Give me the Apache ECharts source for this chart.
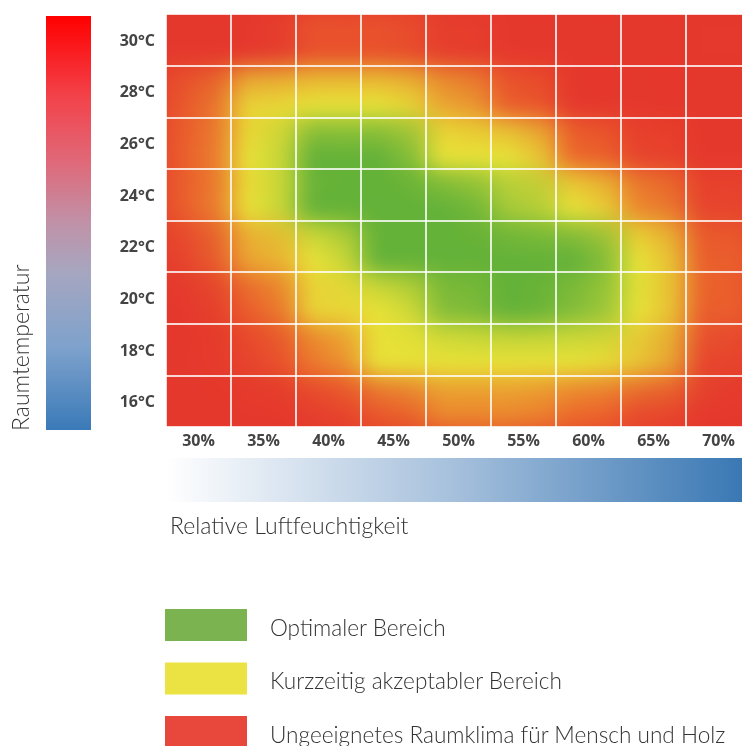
<!DOCTYPE html>
<html><head><meta charset="utf-8">
<script src="https://cdn.jsdelivr.net/npm/echarts@6/dist/echarts.min.js"></script>
<style>
html,body{margin:0;padding:0;width:742px;height:746px;overflow:hidden;background:#fff;}
#heatClip{position:absolute;left:166px;top:14px;width:576px;height:413px;overflow:hidden;}
#heatBlur{position:absolute;left:-65px;top:-51.625px;width:715px;height:516.25px;filter:blur(7px);}
#heat{position:absolute;left:0;top:0;width:22px;height:20px;transform-origin:0 0;transform:scale(32.5,25.8125);image-rendering:auto;}
#main{position:absolute;left:0;top:0;width:760px;height:746px;}
</style></head><body>
<div id="heatClip"><div id="heatBlur"><div id="heat"></div></div></div>
<div id="main"></div>
<script>
// categories
const humidity = ['30%','35%','40%','45%','50%','55%','60%','65%','70%'];
const temperature = ['16°C','18°C','20°C','22°C','24°C','26°C','28°C','30°C'];
// comfort score per cell (0 = ungeeignet, 1 = kurzzeitig akzeptabel, 2 = optimal)
const comfort16 = [0, 0, 0.05, 0.25, 0.5, 0.5, 0.4, 0.15, 0];
const comfort18 = [0, 0.1, 0.45, 0.9, 1.0, 1.0, 1.0, 0.7, 0.1];
const comfort20 = [0, 0.3, 0.75, 1.0, 1.5, 2.0, 1.5, 1.0, 0.3];
const comfort22 = [0.1, 0.6, 1.0, 1.6, 2.0, 2.0, 1.7, 1.0, 0.3];
const comfort24 = [0.3, 1.0, 1.6, 2.0, 2.0, 1.4, 1.0, 0.5, 0.1];
const comfort26 = [0.3, 1.0, 2.0, 2.0, 1.2, 0.8, 0.4, 0.1, 0];
const comfort28 = [0.25, 0.75, 1.2, 1.1, 0.6, 0.3, 0, 0, 0];
const comfort30 = [0, 0, 0.2, 0.2, 0.05, 0, 0, 0, 0];
const comfortRows = [comfort16, comfort18, comfort20, comfort22, comfort24, comfort26, comfort28, comfort30];
// texts
const yAxisTitle = 'Raumtemperatur';
const xAxisTitle = 'Relative Luftfeuchtigkeit';
const legendLabels = ['Optimaler Bereich', 'Kurzzeitig akzeptabler Bereich', 'Ungeeignetes Raumklima für Mensch und Holz'];

const RED = '#e5392e', ORANGE = '#ec6a2c', YELLOW = '#e8e238', GREEN = '#64b23a';
const legendColors = ['#7ab350', '#ebe344', '#e8473c'];

const heatData = [];
comfortRows.forEach((row, yi) => row.forEach((v, xi) => heatData.push([xi, yi, v])));

const heat = echarts.init(document.getElementById('heat'), null, { devicePixelRatio: 1, width: 22, height: 20 });
heat.setOption({
  backgroundColor: RED,
  animation: false,
  grid: { left: 2, top: 2, width: 18, height: 16 },
  xAxis: { type: 'category', data: humidity, show: false },
  yAxis: { type: 'category', data: temperature, show: false },
  visualMap: { show: false, min: 0, max: 2, calculable: false,
    inRange: { color: [RED, ORANGE, YELLOW, YELLOW, GREEN, GREEN] } },
  series: [{ type: 'heatmap', data: heatData, itemStyle: { borderWidth: 0 } }]
});

const labelFont = { color: '#444444', fontWeight: 'bold', fontFamily: 'Open Sans', fontSize: 16 };
const TITLE_FONT = '300 23px Lato';
const LEGEND_FONT = '300 22.6px Lato';
const legendGraphics = [];
legendLabels.forEach((t, i) => {
  legendGraphics.push({ type: 'rect', shape: { x: 165, y: 609 + i * 53.5, width: 82, height: 32 }, style: { fill: legendColors[i] } });
  legendGraphics.push({ type: 'text', x: 270, y: 627 + i * 53.5, style: { text: t, fill: '#333', font: LEGEND_FONT, textVerticalAlign: 'middle' } });
});

const main = echarts.init(document.getElementById('main'), null, { renderer: 'svg' });
main.setOption({
  animation: false,
  grid: { left: 166, top: 14, width: 585, height: 413 },
  xAxis: { type: 'category', data: humidity,
    axisLine: { show: false }, axisTick: { show: false },
    axisLabel: Object.assign({ interval: 0, margin: 5 }, labelFont),
    splitLine: { show: true, interval: 0, lineStyle: { color: 'rgba(255,255,255,0.8)', width: 2 } } },
  yAxis: { type: 'category', data: temperature,
    axisLine: { show: false }, axisTick: { show: false },
    axisLabel: Object.assign({ interval: 0, margin: 11 }, labelFont),
    splitLine: { show: true, interval: 0, lineStyle: { color: 'rgba(255,255,255,0.8)', width: 2 } } },
  series: [],
  graphic: [
    { type: 'rect', shape: { x: 46, y: 16, width: 45, height: 414 },
      style: { fill: new echarts.graphic.LinearGradient(0, 0, 0, 1, [
        { offset: 0, color: '#ff0000' }, { offset: 0.2, color: '#f2444c' },
        { offset: 0.35, color: '#e06878' }, { offset: 0.5, color: '#c092a8' },
        { offset: 0.62, color: '#a6a6c0' }, { offset: 0.8, color: '#7ea2cc' },
        { offset: 1, color: '#3a7ab8' }]) } },
    { type: 'text', x: 20, y: 431, rotation: Math.PI / 2,
      style: { text: yAxisTitle, fill: '#333', font: TITLE_FONT, textAlign: 'left', textVerticalAlign: 'middle' } },
    { type: 'rect', shape: { x: 166, y: 458, width: 576, height: 44 },
      style: { fill: new echarts.graphic.LinearGradient(0, 0, 1, 0, [
        { offset: 0, color: '#ffffff' }, { offset: 0.5, color: '#a6c0dc' },
        { offset: 1, color: '#3a78b4' }]) } },
    { type: 'text', x: 170, y: 525,
      style: { text: xAxisTitle, fill: '#333', font: TITLE_FONT, textVerticalAlign: 'middle' } }
  ].concat(legendGraphics)
});
</script>
</body></html>
